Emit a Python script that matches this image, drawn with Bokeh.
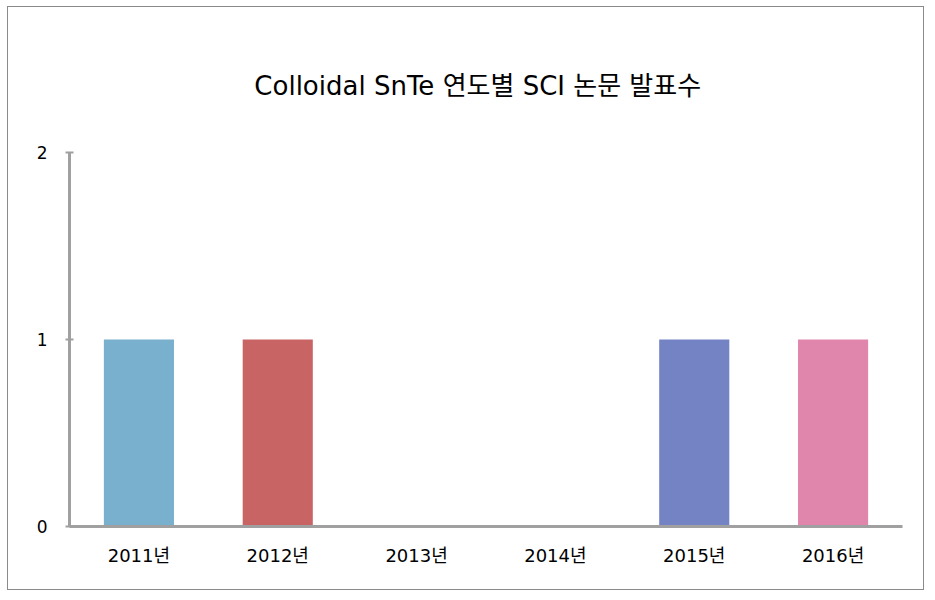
from bokeh.plotting import figure
from bokeh.models import Range1d, FixedTicker
from bokeh.embed import file_html
from bokeh.resources import INLINE

years = ["2011년", "2012년", "2013년", "2014년", "2015년", "2016년"]
counts = [1, 1, 0, 0, 1, 1]
colors = ["#78B0CE", "#C86464", "#FFFFFF", "#FFFFFF", "#7383C4", "#E085AB"]
y_ticks = [0, 1, 2]

FONT = "DejaVu Sans, Noto Sans CJK KR"

p = figure(x_range=years, y_range=Range1d(0, 2), width=917, height=584,
           output_backend="svg", toolbar_location=None,
           title="Colloidal  SnTe 연도별 SCI 논문  발표수",
           min_border_left=61, min_border_right=23, min_border_top=145,
           min_border_bottom=65)
p.styles = {"border": "1px solid #8a8a8a", "margin-left": "7px", "margin-top": "6px"}

p.vbar(x=years, top=counts, width=0.505, color=colors, line_color=None)

p.title.align = "center"
p.title.text_font = FONT
p.title.text_font_size = "26px"
p.title.text_font_style = "normal"
p.title.text_color = "#000000"
p.title.standoff = 104

p.outline_line_color = None
p.grid.grid_line_color = None

p.yaxis.ticker = FixedTicker(ticks=y_ticks)
p.yaxis.minor_tick_line_color = None
p.yaxis.major_tick_in = 4
p.yaxis.major_tick_out = 4
p.yaxis.major_tick_line_color = "#a0a0a0"
p.yaxis.major_tick_line_width = 2
p.yaxis.axis_line_color = "#a0a0a0"
p.yaxis.axis_line_width = 3
p.yaxis.major_label_standoff = 18
p.yaxis.major_label_text_font = FONT
p.yaxis.major_label_text_font_size = "17px"
p.yaxis.major_label_text_color = "#000000"

p.xaxis.major_tick_line_color = None
p.xaxis.minor_tick_line_color = None
p.xaxis.axis_line_color = "#a0a0a0"
p.xaxis.axis_line_width = 3
p.xaxis.major_label_standoff = 12
p.xaxis.major_label_text_font = FONT
p.xaxis.major_label_text_font_size = "18px"
p.xaxis.major_label_text_color = "#000000"

open("out.html", "w").write(file_html(p, INLINE))
